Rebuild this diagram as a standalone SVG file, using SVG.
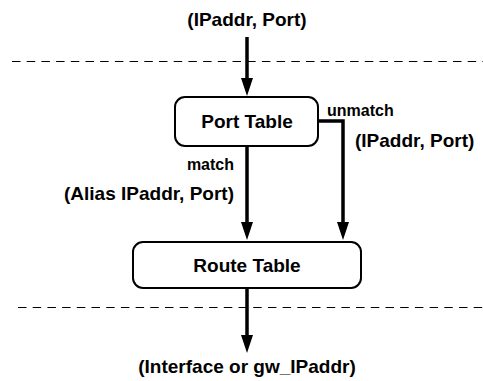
<svg xmlns="http://www.w3.org/2000/svg" width="483" height="381" viewBox="0 0 483 381">
  <style>
    text { font-family: "Liberation Sans", Arial, sans-serif; font-weight: bold; fill: #000; }
    .lbl { font-size: 19px; }
    .small { font-size: 16px; }
    .box { fill: #fff; stroke: #000; stroke-width: 2; }
    .edge { fill: none; stroke: #000; stroke-width: 3.5; }
    .dash { fill: none; stroke: #000; stroke-width: 1; stroke-dasharray: 8.5 6.2; }
    .head { fill: #000; }
  </style>

  <!-- boundary lines, placed on pixel centres so they stay crisp -->
  <line class="dash" x1="12" y1="61.5" x2="483" y2="61.5"/>
  <line class="dash" x1="18" y1="307.5" x2="483" y2="307.5"/>

  <g id="connectors">
    <line class="edge" x1="247" y1="37" x2="247" y2="80"/>
    <polygon class="head" points="241,78 253,78 247,96"/>
    <line class="edge" x1="247" y1="146" x2="247" y2="224"/>
    <polygon class="head" points="241,222 253,222 247,240"/>
    <polyline class="edge" points="318,121 343,121 343,224"/>
    <polygon class="head" points="337,222 349,222 343,240"/>
    <line class="edge" x1="247" y1="288" x2="247" y2="337"/>
    <polygon class="head" points="241,335 253,335 247,353"/>
  </g>

  <g id="port-table">
    <rect class="box" x="175" y="97" width="143" height="49" rx="10"/>
    <text class="lbl" x="247" y="128" text-anchor="middle">Port Table</text>
  </g>

  <g id="route-table">
    <rect class="box" x="133" y="242" width="228" height="46" rx="10"/>
    <text class="lbl" x="247" y="272" text-anchor="middle">Route Table</text>
  </g>

  <!-- labels -->
  <text class="lbl" x="247" y="26" text-anchor="middle">(IPaddr, Port)</text>
  <text class="small" x="327" y="116">unmatch</text>
  <text class="lbl" x="355" y="147">(IPaddr, Port)</text>
  <text class="small" x="234" y="170" text-anchor="end">match</text>
  <text class="lbl" x="234" y="200" text-anchor="end">(Alias IPaddr, Port)</text>
  <text class="lbl" x="247" y="373" text-anchor="middle">(Interface or gw_IPaddr)</text>
</svg>
